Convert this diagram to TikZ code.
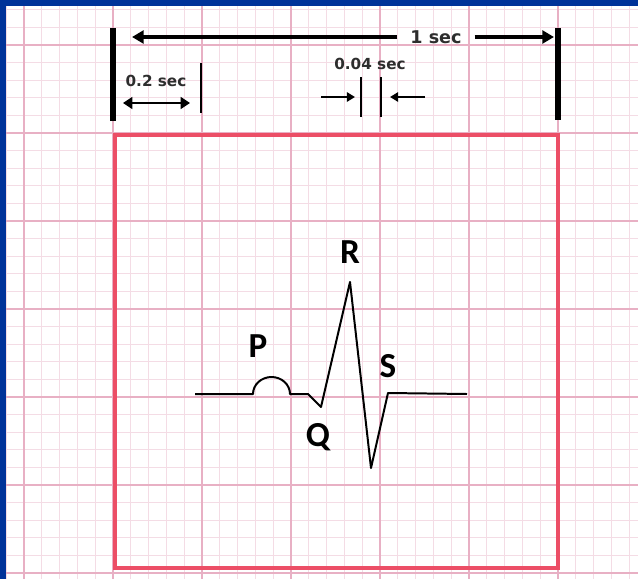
\documentclass[tikz,border=0pt]{standalone}
\usepackage{fontspec}
\setmainfont{DejaVu Sans}
\newfontfamily\wavefont{Carlito}
\usepackage{tikz}
\usetikzlibrary{arrows.meta}
\definecolor{ecgBlue}{RGB}{0,51,153}
\definecolor{ecgMinor}{RGB}{244,220,229}
\definecolor{ecgMajor}{RGB}{232,176,196}
\definecolor{ecgRed}{RGB}{236,78,102}
\definecolor{ecgText}{RGB}{45,45,45}

\begin{document}
\begin{tikzpicture}[x=0.03cm,y=-0.03cm,
  bigsec/.style={font=\bfseries\fontsize{15}{18}\selectfont, text=ecgText, inner xsep=11pt, inner ysep=0pt},
  smallsec/.style={font=\bfseries\fontsize{13}{15}\selectfont, text=ecgText, inner sep=0pt},
  wavelabel/.style={font=\wavefont\bfseries\fontsize{30}{33}\selectfont, anchor=base, inner sep=0pt}]
\useasboundingbox (0,0) rectangle (638,579);
\fill[white] (0,0) rectangle (638,579);
\foreach \k in {-6,...,29}
  \draw[ecgMinor, line width=0.6pt] (113+17.8*\k,6) -- (113+17.8*\k,579);
\foreach \k in {-2,...,30}
  \draw[ecgMinor, line width=0.6pt] (6,45+17.6*\k) -- (638,45+17.6*\k);
\foreach \k in {-1,...,5}
  \draw[ecgMajor, line width=1pt] (113+89*\k,6) -- (113+89*\k,579);
\foreach \k in {0,...,6}
  \draw[ecgMajor, line width=1pt] (6,45+88*\k) -- (638,45+88*\k);
\fill[ecgBlue] (0,0) rectangle (638,6);
\fill[ecgBlue] (0,0) rectangle (6,579);

\draw[ecgRed, line width=3pt] (115,135) rectangle (558,568);

\draw[line width=5pt] (113,28) -- (113,121);
\draw[line width=5pt] (558,28) -- (558,120);
\node[bigsec] (onesec) at (436,37) {1 sec};
\coordinate (onesecL) at (132,37);
\coordinate (onesecR) at (554,37);
\draw[line width=2.8pt, -{Triangle[length=10pt,width=11pt]}] (onesec.west) -- (onesecL);
\draw[line width=2.8pt, -{Triangle[length=10pt,width=11pt]}] (onesec.east) -- (onesecR);

\node[smallsec] (twosec) at (156,81) {0.2 sec};
\coordinate (twoL) at (123,103);
\coordinate (twoR) at (190,103);
\draw[line width=2.4pt, {Triangle[length=8pt,width=10pt]}-{Triangle[length=8pt,width=10pt]}] (twoL) -- (twoR);
\draw[line width=1.7pt] (201,63) -- (201,113);

\node[smallsec] (foursec) at (370,64) {0.04 sec};
\draw[line width=1.7pt] (361,77) -- (361,117);
\draw[line width=1.7pt] (381,77) -- (381,117);
\coordinate (fourL) at (321,97);
\coordinate (fourR) at (425,97);
\draw[line width=2.2pt, -{Triangle[length=7pt,width=8pt]}] (fourL) -- (355,97);
\draw[line width=2.2pt, -{Triangle[length=7pt,width=8pt]}] (fourR) -- (390,97);

\draw[line width=1.7pt, line join=round] (195,394) -- (253,394)
  arc[start angle=180, end angle=360, x radius=18.5, y radius=17]
  -- (308,394) -- (321,407) -- (350,282) -- (371,468) -- (388,393) -- (467,394);
\node[wavelabel] (P) at (258,357) {P};
\node[wavelabel] (Q) at (318,446) {Q};
\node[wavelabel] (R) at (350,263) {R};
\node[wavelabel] (S) at (388,377) {S};
\end{tikzpicture}
\end{document}
